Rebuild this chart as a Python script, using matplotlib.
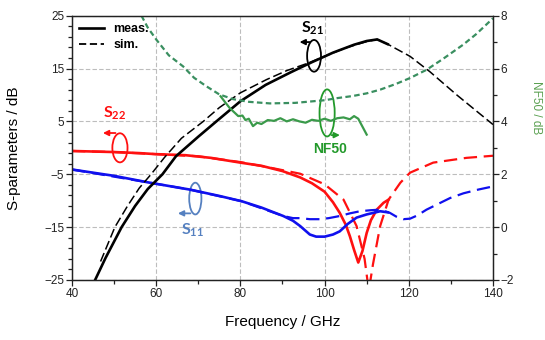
import matplotlib
matplotlib.use("Agg")
import matplotlib.pyplot as plt
from matplotlib.patches import Ellipse
from matplotlib.lines import Line2D

plt.rcParams['font.family'] = ['Liberation Sans', 'DejaVu Sans']
plt.rcParams['mathtext.fontset'] = 'custom'
plt.rcParams['mathtext.rm'] = 'Lato'
plt.rcParams['mathtext.bf'] = 'Lato:bold'

# S21 (dB, left axis)
f_s21_meas = [45.5, 48, 51.8, 55, 58, 61.5, 64.7, 70, 74.3, 80, 86, 92, 97, 102, 107, 110, 112.5, 115]
s21_meas = [-25, -20.8, -15, -11, -7.8, -5, -1.6, 2.1, 5, 8.8, 11.9, 14.3, 16.2, 18.0, 19.5, 20.2, 20.5, 19.6]
f_s21_sim = [46.8, 50.2, 53.2, 56, 58.8, 62, 66, 71.2, 75, 80, 86.2, 91, 96, 100, 105, 110, 112.5, 115, 120.3, 125, 131.4, 136, 140]
s21_sim = [-21.5, -15, -11, -7.6, -5, -1.8, 1.8, 5.0, 7.6, 10.4, 12.9, 14.6, 16.0, 17.3, 18.9, 20.1, 20.5, 19.6, 17.3, 14.4, 10.0, 7.0, 4.4]

# S22
f_s22_meas = [40, 50, 56, 60, 67, 73, 80, 85, 90, 94.2, 97, 100, 102, 103.6, 105, 106, 107, 108, 109, 110, 111, 112.4, 114, 115.2]
s22_meas = [-0.6, -0.8, -1.0, -1.2, -1.4, -1.9, -2.8, -3.4, -4.4, -5.6, -6.7, -8.3, -10.3, -12.3, -14.5, -16.7, -19.3, -21.7, -19.5, -16.1, -13.7, -11.7, -10.4, -9.8]
f_s22_sim = [40, 50, 60, 70, 80, 88, 94.2, 100, 104.5, 107.6, 109.5, 110.5, 111.5, 113.2, 115.2, 118, 120.3, 125.8, 133.7, 140]
s22_sim = [-0.6, -0.8, -1.2, -1.6, -2.7, -3.9, -4.9, -6.9, -9.8, -14.8, -21, -27, -22, -14.8, -9.8, -6.6, -4.7, -2.8, -1.9, -1.5]

# S11
f_s11_meas = [40, 50, 58.5, 68, 75, 80.3, 85, 90.2, 92.5, 94.2, 96.5, 98, 100, 102, 103.6, 105.5, 107.6, 110, 113.2, 115]
s11_meas = [-4.1, -5.3, -6.6, -7.9, -9.1, -10.1, -11.3, -12.9, -13.8, -14.8, -16.4, -16.8, -16.8, -16.4, -15.8, -14.4, -13.2, -12.6, -12.0, -12.2]
f_s11_sim = [40, 58.5, 68, 80.3, 90.2, 92.5, 94.2, 96.5, 99, 101, 103.6, 106, 108.4, 111, 113.2, 115.5, 117, 118.7, 120.3, 122, 124.2, 127, 129.8, 133, 136.5, 140]
s11_sim = [-4.1, -6.6, -7.9, -10.1, -12.9, -13.3, -13.3, -13.5, -13.5, -13.3, -12.9, -12.4, -12.0, -11.8, -11.7, -12.3, -13.0, -13.5, -13.4, -12.8, -11.7, -10.6, -9.5, -8.6, -7.9, -7.3]

# NF50 (dB, right axis)
f_nf_sim = [56.5, 58, 60.1, 63, 66.4, 69, 72, 75, 78.3, 82, 87, 93, 100, 103, 106.7, 110, 113.2, 117, 120.3, 124.2, 128, 132.9, 136, 140]
nf_sim = [8.0, 7.55, 7.08, 6.5, 6.08, 5.65, 5.32, 5.02, 4.84, 4.74, 4.68, 4.7, 4.8, 4.88, 4.96, 5.06, 5.2, 5.42, 5.64, 5.95, 6.35, 6.9, 7.3, 7.9]
f_nf_meas = [75.3, 76.5, 77.5, 78.5, 79.5, 80.5, 81.2, 82, 83, 84, 85, 86.5, 88, 89.5, 91, 92.5, 94, 95.5, 97, 98.5, 100, 101.5, 103, 104.5, 106, 107, 108, 109, 110]
nf_meas = [4.95, 4.7, 4.5, 4.35, 4.2, 4.22, 4.05, 4.1, 3.82, 3.95, 3.9, 4.05, 4.02, 4.12, 4.0, 4.08, 4.0, 3.95, 4.06, 4.02, 4.1, 4.02, 4.12, 4.15, 4.08, 4.2, 4.1, 3.8, 3.5]

fig = plt.figure(figsize=(5.45, 3.4), dpi=100)
ax = fig.add_axes([0.132, 0.1765, 0.7726, 0.7775])
ax2 = ax.twinx()

red = '#ff1010'
blue = '#1010ee'
nf_green = '#3a8f60'
nf_meas_green = '#3a9a4a'

ax.plot(f_s22_meas, s22_meas, color=red, lw=1.9)
ax.plot(f_s22_sim, s22_sim, color=red, lw=1.6, dashes=(6, 3))
ax.plot(f_s11_meas, s11_meas, color=blue, lw=1.9)
ax.plot(f_s11_sim, s11_sim, color=blue, lw=1.6, dashes=(6, 3))
ax.plot(f_s21_meas, s21_meas, color='black', lw=1.9)
ax.plot(f_s21_sim, s21_sim, color='black', lw=1.1, dashes=(6, 2.5))

ax2.plot(f_nf_sim, nf_sim, color=nf_green, lw=1.6, dashes=(2.5, 1.5))
ax2.plot(f_nf_meas, nf_meas, color=nf_meas_green, lw=1.6)

ax.set_xlim(40, 140)
ax.set_ylim(-25, 25)
ax2.set_ylim(-2, 8)
ax.set_xticks([40, 60, 80, 100, 120, 140])
ax.set_xticks([50, 70, 90, 110, 130], minor=True)
ax.set_yticks([-25, -15, -5, 5, 15, 25])
ax.set_yticks(range(-23, 25, 2), minor=True)
ax2.set_yticks([-2, 0, 2, 4, 6, 8])
ax2.set_yticks([-1, 1, 3, 5, 7], minor=True)

for a in (ax, ax2):
    a.tick_params(which='major', direction='out', length=4, width=0.9, labelsize=8.5, colors='#222222', pad=1.5)
    a.tick_params(which='minor', direction='out', length=3, width=0.9, colors='#222222')
    for s in a.spines.values():
        s.set_color('#222222')
        s.set_linewidth(0.9)

ax.grid(True, which='major', color='#bdbdbd', linestyle=(0, (4, 2)), linewidth=0.8)
ax.set_axisbelow(True)

ax.set_xlabel('Frequency / GHz', fontsize=11, labelpad=11)
ax.set_ylabel('S-parameters / dB', fontsize=11, labelpad=17)
fig.text(536 / 545, 1 - 108 / 340, 'NF50 / dB', fontsize=8.5, color='#5aa050',
         rotation=-90, ha='center', va='center')

handles = [Line2D([], [], color='black', lw=1.9), Line2D([], [], color='black', lw=1.3, dashes=(4, 2))]
leg = ax.legend(handles, ['meas.', 'sim.'], loc='upper left', frameon=False,
                prop={'weight': 'bold', 'size': 9}, handlelength=2.0, handletextpad=0.7,
                labelspacing=0.3, borderaxespad=0.2)

# S21 marker
ax.add_patch(Ellipse((97.5, 17.4), 3.3, 6.0, fill=False, ec='black', lw=1.3))
ax.annotate('', xy=(93.4, 20.0), xytext=(97.2, 20.0),
            arrowprops=dict(arrowstyle='-|>', color='black', lw=1.3, mutation_scale=8))
ax.text(97.2, 22.6, r'$\mathbf{S_{21}}$', color='black', fontsize=11.5, ha='center', va='center')

# S22 marker
ax.add_patch(Ellipse((51.4, 0.0), 3.6, 5.5, fill=False, ec=red, lw=1.3))
ax.annotate('', xy=(46.7, 2.8), xytext=(51.0, 2.8),
            arrowprops=dict(arrowstyle='-|>', color=red, lw=1.3, mutation_scale=8))
ax.text(50.2, 6.6, r'$\mathbf{S_{22}}$', color=red, fontsize=11.5, ha='center', va='center')

# S11 marker
s11_col = '#5580c0'
ax.add_patch(Ellipse((69.3, -9.6), 2.9, 6.0, fill=False, ec=s11_col, lw=1.3))
ax.annotate('', xy=(64.5, -12.4), xytext=(68.8, -12.4),
            arrowprops=dict(arrowstyle='-|>', color=s11_col, lw=1.3, mutation_scale=8))
ax.text(68.7, -15.6, r'$\mathbf{S_{11}}$', color=s11_col, fontsize=11.5, ha='center', va='center')

# NF50 marker
nf_col = '#22992a'
ax.add_patch(Ellipse((100.6, 6.6), 3.6, 8.9, fill=False, ec=nf_col, lw=1.3))
ax.annotate('', xy=(104.3, 2.4), xytext=(101.0, 2.4),
            arrowprops=dict(arrowstyle='-|>', color=nf_col, lw=1.3, mutation_scale=8))
ax.text(101.3, -0.2, 'NF50', color=nf_col, fontsize=10, fontweight='bold', ha='center', va='center')

fig.savefig('out.png', dpi=100)
